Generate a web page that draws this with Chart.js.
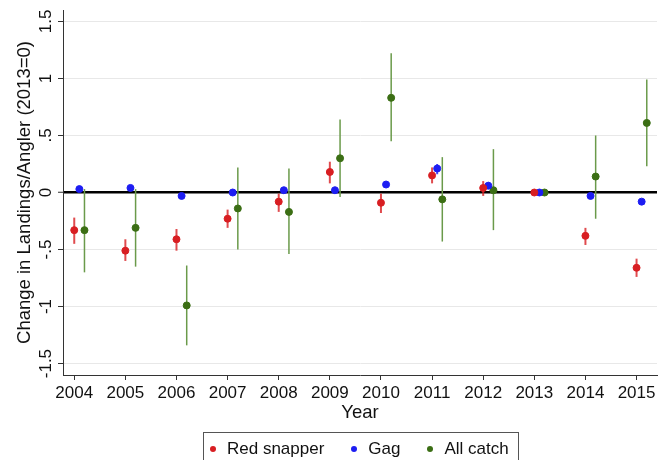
<!DOCTYPE html>
<html>
<head>
<meta charset="utf-8">
<script src="https://cdn.jsdelivr.net/npm/chart.js@4.4.1/dist/chart.umd.min.js"></script>
<style>
  body { margin: 0; background: #fff; overflow: hidden; }
  #wrap { position: relative; width: 672px; height: 460px; }
  #legend {
    position: absolute; left: 203px; top: 432px; width: 316px; height: 40px;
    border: 1px solid #555; box-sizing: border-box;
    font: 17px "Liberation Sans", Arial, sans-serif; line-height: 20px; color: #111;
    display: flex; align-items: flex-start; padding: 6px 0 0 6px;
  }
  .item { display: flex; align-items: center; margin-right: 27px; white-space: nowrap; }
  .dot { width: 6px; height: 6px; border-radius: 50%; margin-right: 11px; }
</style>
</head>
<body>
<div id="wrap">
  <canvas id="chart" width="672" height="460"></canvas>
  <div id="legend"></div>
</div>
<script>
// Years and estimates (2013 = base year)
const years = [2004, 2005, 2006, 2007, 2008, 2009, 2010, 2011, 2012, 2013, 2014, 2015];

const snapperMean = [-0.33, -0.51, -0.41, -0.23, -0.08, 0.18, -0.09, 0.15, 0.04, 0, -0.38, -0.66];
const snapperLo   = [-0.45, -0.60, -0.51, -0.31, -0.17, 0.08, -0.18, 0.08, -0.03, 0, -0.46, -0.74];
const snapperHi   = [-0.22, -0.41, -0.32, -0.15, -0.01, 0.27, -0.01, 0.22, 0.10, 0, -0.31, -0.58];

const gagMean = [0.03, 0.04, -0.03, 0.00, 0.02, 0.02, 0.07, 0.21, 0.06, 0, -0.03, -0.08];
const gagLo   = [0.01, 0.02, -0.05, -0.02, 0.00, 0.00, 0.05, 0.16, 0.03, 0, -0.05, -0.10];
const gagHi   = [0.05, 0.06, -0.01, 0.02, 0.04, 0.04, 0.09, 0.25, 0.09, 0, -0.01, -0.06];

const allMean = [-0.33, -0.31, -0.99, -0.14, -0.17, 0.30, 0.83, -0.06, 0.02, 0, 0.14, 0.61];
const allLo   = [-0.70, -0.65, -1.34, -0.50, -0.54, -0.04, 0.45, -0.43, -0.33, 0, -0.23, 0.23];
const allHi   = [0.03, 0.03, -0.64, 0.22, 0.21, 0.64, 1.22, 0.31, 0.38, 0, 0.50, 0.99];

const yTicks = [-1.5, -1, -0.5, 0, 0.5, 1, 1.5];

const FONT = '"Liberation Sans", Arial, sans-serif';

function makeSet(label, mean, lo, hi, shift, color, barColor, barWidth) {
  return {
    label: label,
    data: years.map((yr, i) => ({ x: yr + shift, y: mean[i] })),
    lo: lo,
    hi: hi,
    barColor: barColor,
    barWidth: barWidth,
    backgroundColor: color,
    borderColor: color,
    pointRadius: 3.5,
    pointHoverRadius: 3.5,
    showLine: false
  };
}

// vertical confidence interval lines, drawn under the dots
const errorBars = {
  id: "errorBars",
  beforeDatasetsDraw(chart) {
    const ctx = chart.ctx;
    const xs = chart.scales.x, ys = chart.scales.y;
    chart.data.datasets.forEach((ds) => {
      ctx.save();
      ctx.strokeStyle = ds.barColor;
      ctx.lineWidth = ds.barWidth;
      ds.data.forEach((p, i) => {
        if (ds.lo[i] === ds.hi[i]) return;
        const x = xs.getPixelForValue(p.x);
        ctx.beginPath();
        ctx.moveTo(x, ys.getPixelForValue(ds.lo[i]));
        ctx.lineTo(x, ys.getPixelForValue(ds.hi[i]));
        ctx.stroke();
      });
      ctx.restore();
    });
  }
};

// Stata-style vertical y tick labels
const yLabels = {
  id: "yLabels",
  afterDraw(chart) {
    const ctx = chart.ctx;
    const ys = chart.scales.y;
    ctx.save();
    ctx.fillStyle = "#111";
    ctx.font = "17px " + FONT;
    ctx.textAlign = "center";
    ctx.textBaseline = "middle";
    ys.ticks.forEach((t) => {
      const y = ys.getPixelForValue(t.value);
      ctx.save();
      ctx.translate(46, y);
      ctx.rotate(-Math.PI / 2);
      ctx.fillText(String(t.value).replace("0.", "."), 0, 0);
      ctx.restore();
    });
    ctx.restore();
  }
};

const datasets = [
  makeSet("Red snapper", snapperMean, snapperLo, snapperHi, 0, "#d81e22", "rgba(216,30,34,0.8)", 2),
  makeSet("Gag", gagMean, gagLo, gagHi, 0.1, "#1d1df2", "rgba(29,29,242,0.8)", 2),
  makeSet("All catch", allMean, allLo, allHi, 0.2, "#3b6e14", "#6a9a4a", 1.5)
];

new Chart(document.getElementById("chart").getContext("2d"), {
  type: "scatter",
  data: { datasets: datasets },
  options: {
    responsive: false,
    animation: false,
    layout: { padding: { top: 10, right: 15, left: 0, bottom: 35 } },
    plugins: { legend: { display: false }, tooltip: { enabled: false } },
    scales: {
      x: {
        type: "linear",
        min: 2003.78,
        max: 2015.4,
        afterBuildTicks: (s) => { s.ticks = years.map((v) => ({ value: v })); },
        afterFit: (s) => { s.height = 50; },
        ticks: {
          color: "#111",
          font: { family: FONT, size: 17 },
          padding: 3,
          maxRotation: 0,
          callback: (v) => String(v)
        },
        grid: { drawOnChartArea: false, drawTicks: true, tickLength: 5, tickColor: "#333" },
        border: { color: "#333", width: 1 },
        title: {
          display: true,
          text: "Year",
          color: "#111",
          font: { family: FONT, size: 18.5 },
          padding: { top: 0, bottom: 1 }
        }
      },
      y: {
        min: -1.6,
        max: 1.6,
        afterBuildTicks: (s) => { s.ticks = yTicks.map((v) => ({ value: v })); },
        afterFit: (s) => { s.width = 63; },
        ticks: { display: false },
        grid: {
          color: (c) => (c.tick && c.tick.value === 0 ? "#000" : "#e8e8e8"),
          lineWidth: (c) => (c.tick && c.tick.value === 0 ? 2.5 : 1),
          drawTicks: true,
          tickLength: 5,
          tickColor: "#333",
          tickWidth: 1
        },
        border: { color: "#333", width: 1 },
        title: {
          display: true,
          text: "Change in Landings/Angler (2013=0)",
          color: "#111",
          font: { family: FONT, size: 18.5 },
          padding: { top: 14, bottom: 0 }
        }
      }
    }
  },
  plugins: [errorBars, yLabels]
});

// legend box like the Stata one
const legendBox = document.getElementById("legend");
datasets.forEach((ds) => {
  const item = document.createElement("div");
  item.className = "item";
  item.innerHTML = `<span class="dot" style="background:${ds.backgroundColor}"></span><span>${ds.label}</span>`;
  legendBox.appendChild(item);
});
</script>
</body>
</html>
